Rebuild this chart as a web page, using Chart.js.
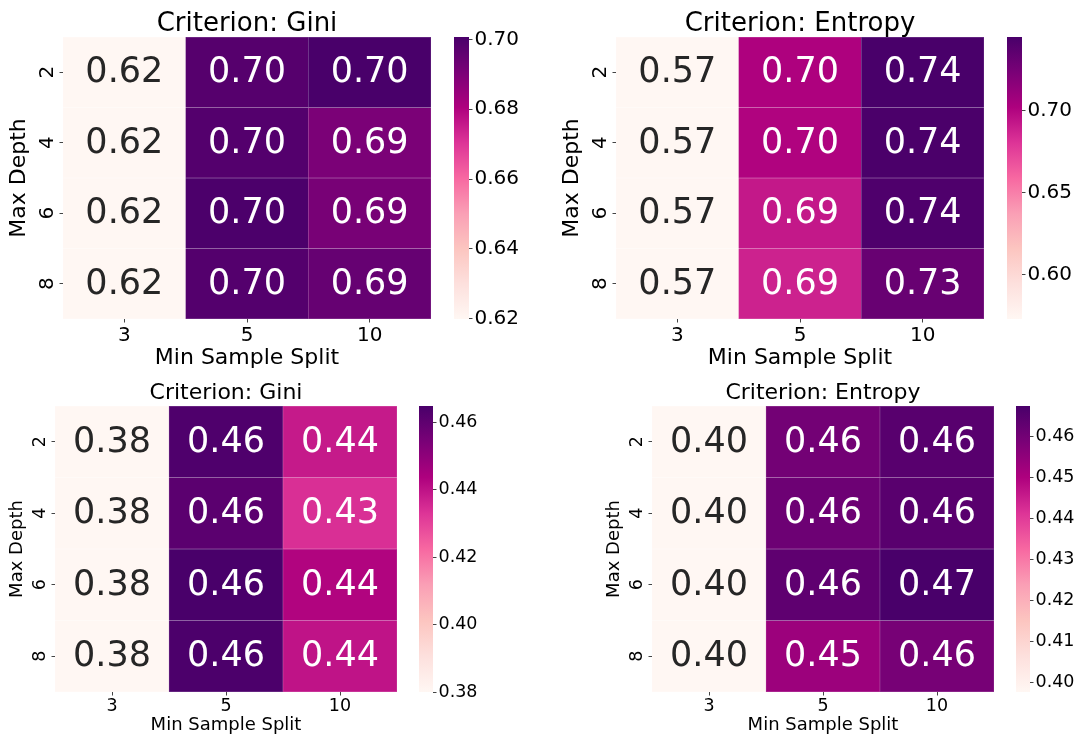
<!DOCTYPE html>
<html><head><meta charset="utf-8">
<script src="https://cdn.jsdelivr.net/npm/chart.js@4.4.1/dist/chart.umd.min.js"></script>
<style>
html,body{margin:0;padding:0;background:#fff;}
#wrap{position:relative;width:1080px;height:738px;overflow:hidden;background:#fff;}
#wrap canvas{position:absolute;}
</style></head><body><div id="wrap"></div>
<script>
// ---------------- data ----------------
const splitLabels = ['3', '5', '10'];
const depthLabels = ['2', '4', '6', '8'];

const giniTopValues = [
  [0.6199, 0.6980, 0.7007],
  [0.6199, 0.6985, 0.6905],
  [0.6199, 0.7000, 0.6910],
  [0.6199, 0.6985, 0.6948]
];
const entropyTopValues = [
  [0.5728, 0.7020, 0.7448],
  [0.5728, 0.7010, 0.7440],
  [0.5728, 0.6920, 0.7420],
  [0.5728, 0.6880, 0.7310]
];
const giniBottomValues = [
  [0.3800, 0.4635, 0.4385],
  [0.3800, 0.4610, 0.4340],
  [0.3800, 0.4648, 0.4430],
  [0.3800, 0.4642, 0.4398]
];
const entropyBottomValues = [
  [0.3976, 0.4600, 0.4648],
  [0.3976, 0.4610, 0.4647],
  [0.3976, 0.4635, 0.4675],
  [0.3976, 0.4530, 0.4593]
];

const giniTopTicks = [0.62, 0.64, 0.66, 0.68, 0.70];
const entropyTopTicks = [0.60, 0.65, 0.70];
const giniBottomTicks = [0.38, 0.40, 0.42, 0.44, 0.46];
const entropyBottomTicks = [0.40, 0.41, 0.42, 0.43, 0.44, 0.45, 0.46];

const panelTitles = ['Criterion: Gini', 'Criterion: Entropy', 'Criterion: Gini', 'Criterion: Entropy'];
const xTitle = 'Min Sample Split';
const yTitle = 'Max Depth';

// ---------------- colormap (RdPu) ----------------
const RDPU = ['#fff7f3','#fde0dd','#fcc5c0','#fa9fb5','#f768a1','#dd3497','#ae017e','#7a0177','#49006a'];
function hexToRgb(h){ return [parseInt(h.slice(1,3),16), parseInt(h.slice(3,5),16), parseInt(h.slice(5,7),16)]; }
const RDPU_RGB = RDPU.map(hexToRgb);
function cmapRgb(t){
  t = Math.max(0, Math.min(1, t));
  const s = t * 8; let i = Math.floor(s); if (i > 7) i = 7;
  const f = s - i, a = RDPU_RGB[i], b = RDPU_RGB[i+1];
  return [0,1,2].map(k => a[k] + (b[k]-a[k]) * f);
}
function rgbStr(c){ return 'rgb(' + c.map(v => Math.round(v)).join(',') + ')'; }
function lum(c){
  const l = c.map(v => { v /= 255; return v <= 0.03928 ? v/12.92 : Math.pow((v+0.055)/1.055, 2.4); });
  return 0.2126*l[0] + 0.7152*l[1] + 0.0722*l[2];
}

const FONT = '"DejaVu Sans", sans-serif';
Chart.defaults.font.family = FONT;
Chart.defaults.color = '#000';

function makeCanvas(left, top, w, h){
  const c = document.createElement('canvas');
  c.width = w; c.height = h;
  c.style.left = left + 'px'; c.style.top = top + 'px';
  c.style.width = w + 'px'; c.style.height = h + 'px';
  document.getElementById('wrap').appendChild(c);
  return c;
}

function makePanel(cfg){
  const vals = cfg.values;
  const flat = vals.flat();
  const vmin = Math.min(...flat), vmax = Math.max(...flat);
  const norm = v => (v - vmin) / (vmax - vmin);
  const heat = cfg.heat;
  const cL = heat.l - cfg.leftOffset, cR = heat.r + 10;
  const cT = cfg.top, cB = cfg.bottom;
  const W = cR - cL, H = cB - cT;
  const pt = cfg.titleCenter - cfg.titleSize/2 - cT;
  const pb = heat.t - cT - pt - cfg.titleSize;

  const cellColor = (r, c) => cmapRgb(norm(vals[r][c]));
  const datasets = depthLabels.map((d, r) => ({
    label: d,
    data: splitLabels.map(() => [r - 0.5, r + 0.5]),
    backgroundColor: ctx => rgbStr(cellColor(ctx.datasetIndex, ctx.dataIndex)),
    borderColor: ctx => { const c = cellColor(ctx.datasetIndex, ctx.dataIndex); return rgbStr(c.map(v => v + (255 - v) * 0.42)); },
    borderWidth: 0.5,
    borderSkipped: false,
    barPercentage: 1, categoryPercentage: 1, grouped: false
  }));

  const textPlugin = {
    id: 'cellText',
    afterDatasetsDraw(chart){
      const {ctx, scales: {x, y}} = chart;
      ctx.save();
      ctx.font = cfg.annSize + 'px ' + FONT;
      ctx.textAlign = 'center'; ctx.textBaseline = 'middle';
      vals.forEach((row, r) => row.forEach((v, c) => {
        ctx.fillStyle = lum(cellColor(r, c)) > 0.408 ? '#262626' : '#ffffff';
        ctx.fillText(v.toFixed(2), x.getPixelForValue(c), y.getPixelForValue(r) + 1);
      }));
      ctx.restore();
    }
  };

  const gridOpts = {display: true, drawOnChartArea: false, drawTicks: true, tickLength: cfg.tickLen, offset: false, color: '#444', lineWidth: 1};

  new Chart(makeCanvas(cL, cT, W, H), {
    type: 'bar',
    data: {labels: splitLabels, datasets},
    plugins: [textPlugin],
    options: {
      responsive: false, animation: false, events: [], devicePixelRatio: 1,
      layout: {padding: {left: 0, top: 0, right: cR - heat.r, bottom: 0}},
      plugins: {
        legend: {display: false}, tooltip: {enabled: false},
        title: {display: true, text: cfg.title, fullSize: false, color: '#000',
          font: {size: cfg.titleSize, weight: 'normal', lineHeight: 1},
          padding: {top: pt, bottom: pb}}
      },
      scales: {
        x: {
          type: 'category', offset: true,
          grid: gridOpts, border: {display: false},
          ticks: {font: {size: cfg.tickSize, lineHeight: 1.2}, padding: cfg.xTickPad, color: '#000', maxRotation: 0, minRotation: 0, autoSkip: false},
          title: {display: true, text: xTitle, color: '#000', font: {size: cfg.labelSize, lineHeight: 1}, padding: {top: 0, bottom: cfg.xTitlePadBottom}},
          afterFit: s => { s.height = cB - heat.b; }
        },
        y: {
          type: 'linear', min: -0.5, max: 3.5, reverse: true,
          afterBuildTicks: s => { s.ticks = depthLabels.map((_, i) => ({value: i})); },
          grid: gridOpts, border: {display: false},
          ticks: {font: {size: cfg.tickSize, lineHeight: 1.2}, padding: cfg.yTickPad, color: '#000', minRotation: 90, maxRotation: 90, crossAlign: 'center', autoSkip: false,
            callback: v => depthLabels[v]},
          title: {display: true, text: yTitle, color: '#000', font: {size: cfg.labelSize, lineHeight: 1}, padding: {top: cfg.yTitlePad, bottom: 0}},
          afterFit: s => { s.width = heat.l - cL; }
        }
      }
    }
  });

  // colorbar
  const cbL = heat.r + cfg.cbGap;
  const cbCanvasL = cbL - 5, cbCanvasT = heat.t - 15;
  const cbW = 5 + cfg.cbWidth + 70, cbH = heat.b - heat.t + 30;
  const ticks = cfg.ticks;
  new Chart(makeCanvas(cbCanvasL, cbCanvasT, cbW, cbH), {
    type: 'bar',
    data: {labels: [''], datasets: [{
      data: [[vmin, vmax]],
      backgroundColor: ctx => {
        const ca = ctx.chart.chartArea;
        if (!ca) return '#fff';
        const g = ctx.chart.ctx.createLinearGradient(0, ca.bottom, 0, ca.top);
        RDPU.forEach((c, i) => g.addColorStop(i / 8, c));
        return g;
      },
      borderWidth: 0, inflateAmount: 0, barPercentage: 1, categoryPercentage: 1
    }]},
    options: {
      responsive: false, animation: false, events: [], devicePixelRatio: 1,
      layout: {padding: {left: 5, top: 15, bottom: 15, right: 0}},
      plugins: {legend: {display: false}, tooltip: {enabled: false}, title: {display: false}},
      scales: {
        x: {display: false},
        y: {
          position: 'right', min: vmin, max: vmax,
          afterBuildTicks: s => { s.ticks = ticks.map(v => ({value: v})); },
          grid: {display: true, drawOnChartArea: false, drawTicks: true, tickLength: cfg.tickLen, color: '#444', lineWidth: 1},
          border: {display: false},
          ticks: {font: {size: cfg.tickSize}, padding: cfg.cbPad, color: '#000', autoSkip: false, callback: v => Number(v).toFixed(2)},
          afterFit: s => { s.width = 70; }
        }
      }
    }
  });
}

const topCfg = {top: 0, bottom: 370, leftOffset: 63, titleSize: 26, titleCenter: 24, tickSize: 20, labelSize: 22,
  annSize: 35, tickLen: 3.5, xTickPad: 1, yTickPad: 5, yTitlePad: 8, xTitlePadBottom: 1, cbGap: 23, cbWidth: 15, cbPad: 2};
const botCfg = {top: 372, bottom: 738, leftOffset: 55, titleSize: 22, titleCenter: 393.3, tickSize: 17.5, labelSize: 18,
  annSize: 35, tickLen: 3.5, xTickPad: 0, yTickPad: 5, yTitlePad: 8, xTitlePadBottom: 4, cbGap: 22, cbWidth: 14, cbPad: 2};

makePanel(Object.assign({}, topCfg, {values: giniTopValues, ticks: giniTopTicks, title: panelTitles[0], heat: {l: 63, t: 37, r: 431, b: 319}}));
makePanel(Object.assign({}, topCfg, {values: entropyTopValues, ticks: entropyTopTicks, title: panelTitles[1], heat: {l: 616, t: 37, r: 984, b: 319}}));
makePanel(Object.assign({}, botCfg, {values: giniBottomValues, ticks: giniBottomTicks, title: panelTitles[2], heat: {l: 55, t: 406, r: 397, b: 692}}));
makePanel(Object.assign({}, botCfg, {values: entropyBottomValues, ticks: entropyBottomTicks, title: panelTitles[3], heat: {l: 652, t: 406, r: 994, b: 692}}));
</script>
</body></html>
